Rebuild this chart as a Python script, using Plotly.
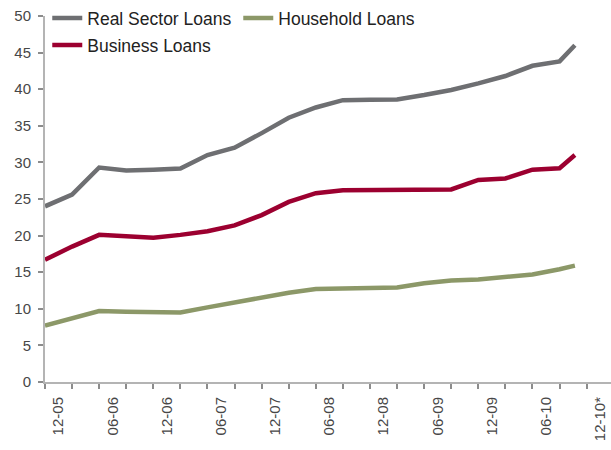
import plotly.graph_objects as go

# Months elapsed since December 2005 (quarterly observations, last one late 2010)
months = [0, 3, 6, 9, 12, 15, 18, 21, 24, 27, 30, 33, 36, 39, 42, 45, 48, 51, 54, 57, 58.7]

real_sector = [24.0, 25.6, 29.3, 28.9, 29.0, 29.15, 31.0, 32.0, 34.0, 36.1, 37.5,
               38.5, 38.55, 38.6, 39.2, 39.9, 40.8, 41.8, 43.2, 43.8, 46.0]
business = [16.7, 18.5, 20.1, 19.9, 19.7, 20.1, 20.6, 21.4, 22.8, 24.6, 25.8,
            26.2, 26.2, 26.25, 26.3, 26.3, 27.6, 27.8, 29.0, 29.2, 31.0]
household = [7.7, 8.7, 9.7, 9.6, 9.55, 9.5, 10.2, 10.9, 11.6, 12.2, 12.7,
             12.8, 12.85, 12.9, 13.5, 13.85, 14.0, 14.3, 14.7, 15.4, 15.9]

tick_labels = ["12-05", "06-06", "12-06", "06-07", "12-07", "06-08",
               "12-08", "06-09", "12-09", "06-10", "12-10*"]
y_ticks = [0, 5, 10, 15, 20, 25, 30, 35, 40, 45, 50]

GREY = "#6e6f72"
RED = "#9c0030"
GREEN = "#8c9868"
AXIS = "#b4b4b4"
FONT = "Liberation Sans, Arial, sans-serif"

fig = go.Figure()
fig.add_trace(go.Scatter(x=months, y=real_sector, mode="lines", name="Real Sector Loans",
                         line=dict(color=GREY, width=4.5), legend="legend"))
fig.add_trace(go.Scatter(x=months, y=household, mode="lines", name="Household Loans",
                         line=dict(color=GREEN, width=4.5), legend="legend"))
fig.add_trace(go.Scatter(x=months, y=business, mode="lines", name="Business Loans",
                         line=dict(color=RED, width=4.5), legend="legend2"))

# half-year labels sit in the middle of each quarter slot
label_pos = [6 * i + 1.5 for i in range(len(tick_labels))]
quarter_ticks = list(range(0, 61, 3))

legend_font = dict(family=FONT, size=17.5, color="#222222")

fig.update_layout(
    width=611, height=450,
    margin=dict(l=45, r=0, t=16, b=68),
    paper_bgcolor="white", plot_bgcolor="white",
    font=dict(family=FONT, color="#474747"),
    legend=dict(orientation="h", x=0.004, xanchor="left", y=(382 - 18) / 366, yanchor="middle",
                font=legend_font, bgcolor="rgba(0,0,0,0)", entrywidth=146,
                entrywidthmode="pixels", itemwidth=30, tracegroupgap=0),
    legend2=dict(orientation="h", x=0.004, xanchor="left", y=(382 - 45) / 366, yanchor="middle",
                 font=legend_font, bgcolor="rgba(0,0,0,0)", itemwidth=30),
    xaxis=dict(
        range=[0, 62.7], showgrid=False, zeroline=False,
        showline=True, linecolor=AXIS, linewidth=2,
        tickmode="array", tickvals=label_pos, ticktext=tick_labels,
        ticks="", tickangle=-90, tickfont=dict(size=15, color="#474747"),
        ticklabelstandoff=7,
        minor=dict(tickmode="array", tickvals=quarter_ticks, ticks="outside",
                   ticklen=5, tickwidth=1.5, tickcolor="#8c8c8c", showgrid=False),
    ),
    yaxis=dict(
        range=[0, 50], showgrid=False, zeroline=False,
        showline=True, linecolor=AXIS, linewidth=2,
        tickmode="array", tickvals=y_ticks,
        ticks="outside", ticklen=5, tickwidth=1.5, tickcolor="#8c8c8c",
        tickfont=dict(size=15, color="#474747"), ticklabelstandoff=4,
    ),
)

fig.write_html("out.html")
